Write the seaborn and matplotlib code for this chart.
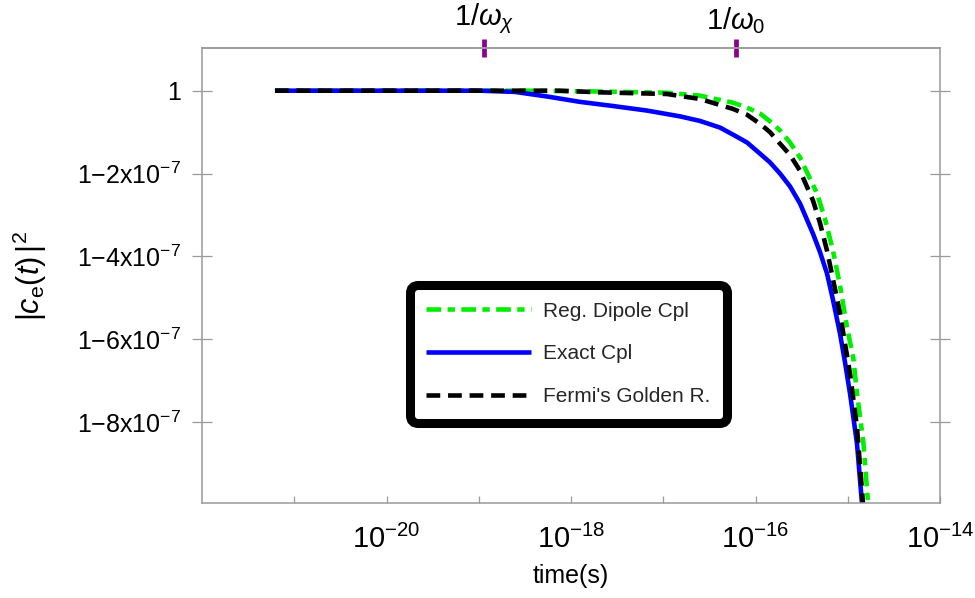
import numpy as np
import pandas as pd
import matplotlib
matplotlib.use("Agg")
import matplotlib.pyplot as plt
import seaborn as sns
from matplotlib.ticker import FixedLocator, NullFormatter

# ---- data (log10 of time in s, deviation of |c_e|^2 from 1 in units of 1e-7) ----
log_t_exact = [-21.209, -18.986, -18.607, -18.260, -17.902, -17.545, -17.176, -16.818,
               -16.602, -16.385, -16.244, -16.092, -15.951, -15.843, -15.734, -15.626,
               -15.518, -15.377, -15.300, -15.225, -15.160, -15.084, -15.030, -14.976,
               -14.900, -14.846]
dev_exact = [0.0, 0.0, -0.03, -0.14, -0.27, -0.37, -0.48, -0.62,
             -0.73, -0.89, -1.06, -1.25, -1.52, -1.73, -2.00, -2.31,
             -2.72, -3.45, -3.90, -4.41, -5.05, -5.86, -6.55, -7.30,
             -8.51, -9.95]

log_t_fgr = [-21.209, -18.120, -17.690, -16.960, -16.602, -16.244, -16.092, -15.951,
             -15.843, -15.734, -15.626, -15.518, -15.377, -15.300, -15.225, -15.160,
             -15.084, -15.030, -14.976, -14.900, -14.835]
dev_fgr = [0.0, 0.0, -0.04, -0.08, -0.20, -0.44, -0.58, -0.80,
           -1.00, -1.28, -1.55, -1.93, -2.65, -3.20, -3.86, -4.55,
           -5.37, -6.10, -6.82, -8.12, -9.95]

log_t_reg = [-21.209, -18.500, -17.690, -16.960, -16.602, -16.244, -16.092, -15.951,
             -15.843, -15.734, -15.626, -15.518, -15.333, -15.246, -15.160, -15.084,
             -15.008, -14.940, -14.900, -14.830, -14.780]
dev_reg = [0.0, 0.0, -0.02, -0.05, -0.12, -0.29, -0.41, -0.55,
           -0.74, -0.96, -1.25, -1.61, -2.48, -3.10, -3.86, -4.70,
           -5.71, -6.45, -7.30, -8.50, -9.95]

series_names = ["Reg. Dipole Cpl", "Exact Cpl", "Fermi's Golden R."]

y_ticks = [0, -2, -4, -6, -8]
y_ticklabels = ["1", r"$\mathregular{1{-}2x10^{-7}}$", r"$\mathregular{1{-}4x10^{-7}}$",
                r"$\mathregular{1{-}6x10^{-7}}$", r"$\mathregular{1{-}8x10^{-7}}$"]
x_major_exp = [-20, -18, -16, -14]
x_minor_exp = [-21, -19, -17, -15]
top_tick_logs = [-18.943, -16.211]
top_tick_labels = [r"$1/\omega_{\chi}$", r"$1/\omega_{0}$"]

# ---- build table ----
frames = []
for name, lt, dv in [(series_names[0], log_t_reg, dev_reg),
                     (series_names[1], log_t_exact, dev_exact),
                     (series_names[2], log_t_fgr, dev_fgr)]:
    frames.append(pd.DataFrame({"t": 10.0 ** np.array(lt), "dev": dv, "series": name}))
df = pd.concat(frames, ignore_index=True)

sns.set_theme(style="white")
plt.rcParams["font.family"] = ["Liberation Sans", "DejaVu Sans"]
plt.rcParams["mathtext.fontset"] = "custom"
plt.rcParams["mathtext.rm"] = "Liberation Sans"
plt.rcParams["mathtext.it"] = "Liberation Sans:italic"
plt.rcParams["mathtext.bf"] = "Liberation Sans:bold"

fig = plt.figure(figsize=(9.75, 5.98), dpi=100)
ax = fig.add_axes([202 / 975, 1 - 503 / 598, 738 / 975, 455 / 598])

palette = {series_names[0]: "#00ee00", series_names[1]: "#0000ff", series_names[2]: "#000000"}
dashes = {series_names[0]: (3.2, 1.4, 1.6, 1.4), series_names[1]: "", series_names[2]: (3.0, 1.7)}
sns.lineplot(data=df, x="t", y="dev", hue="series", style="series", palette=palette,
             dashes=dashes, linewidth=3.3, ax=ax, sort=False, estimator=None,
             hue_order=series_names, style_order=series_names)

for line in ax.get_lines():
    line.set_solid_capstyle("butt")
    line.set_solid_joinstyle("round")

ax.set_xscale("log")
ax.set_xlim(1e-22, 1e-14)
ax.set_ylim(-9.95, 1.03)

ax.xaxis.set_major_locator(FixedLocator([10.0 ** e for e in x_major_exp]))
ax.set_xticklabels([r"$10^{%d}$" % e for e in x_major_exp])
ax.xaxis.set_minor_locator(FixedLocator([10.0 ** e for e in x_minor_exp]))
ax.xaxis.set_minor_formatter(NullFormatter())

ax.set_yticks(y_ticks)
ax.set_yticklabels(y_ticklabels)

grey = "#9a9a9a"
for sp in ax.spines.values():
    sp.set_color(grey)
    sp.set_linewidth(1.1)
    sp.set_visible(True)

ax.tick_params(axis="x", which="both", direction="in", length=5, width=0.9, color=grey,
               bottom=True, top=False, labelsize=21, pad=16, labelcolor="black")
ax.tick_params(axis="y", which="major", direction="inout", length=14, width=0.9, color=grey,
               left=True, right=True, labelsize=18, pad=8, labelcolor="black")

ax.set_xlabel("time(s)", fontsize=18, labelpad=7, color="black")
ax.set_ylabel(r"$|c_{\mathrm{e}}(t)\,|^{2}$", fontsize=22, labelpad=20, color="black")

# top markers
sec = ax.secondary_xaxis("top")
sec.set_xticks([10.0 ** v for v in top_tick_logs])
sec.set_xticklabels(top_tick_labels)
sec.xaxis.set_minor_locator(FixedLocator([]))
sec.tick_params(axis="x", which="major", direction="inout", length=13, width=3.4,
                color="#8b008b", labelsize=21, pad=2, labelcolor="black")
sec.spines["top"].set_color(grey)
sec.spines["top"].set_linewidth(1.1)

leg = ax.legend(loc="center", bbox_to_anchor=(0.4966, 0.3275), fontsize=15,
                handlelength=5.0, handletextpad=0.6, labelspacing=1.15,
                borderpad=0.6, fancybox=True, frameon=True, framealpha=1)
leg.get_frame().set_edgecolor("black")
leg.get_frame().set_linewidth(6.5)
leg.get_frame().set_boxstyle("round,pad=0.2,rounding_size=0.4")
for h in leg.get_lines():
    h.set_linewidth(3.3)

fig.savefig("out.png", dpi=100)
